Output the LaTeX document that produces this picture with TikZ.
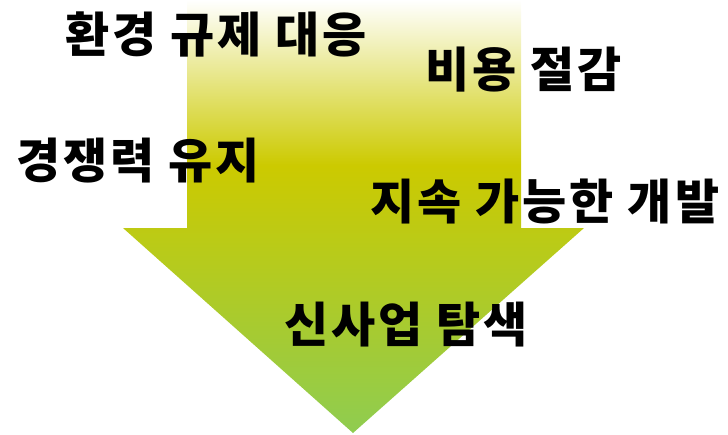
\documentclass[tikz,border=0pt]{standalone}
\usepackage{fontspec}
\newfontfamily\kr[LetterSpace=6]{Noto Sans CJK KR}
\definecolor{arrowtop}{HTML}{FFFFFF}
\definecolor{arrowmid}{HTML}{CCCA00}
\definecolor{arrowbot}{HTML}{8FCC50}
\pgfdeclareverticalshading{arrowshade}{100bp}{
  color(0bp)=(arrowbot); color(25bp)=(arrowbot);
  color(55.9bp)=(arrowmid);
  color(75bp)=(arrowtop); color(100bp)=(arrowtop)}
\tikzset{
  lbl/.style={font=\kr\bfseries\fontsize{48}{52}\selectfont, inner sep=0pt, text=black}
}
\begin{document}
\begin{tikzpicture}[x=1pt,y=-1pt]
\useasboundingbox (0,0) rectangle (728,434);
\shade[shading=arrowshade] (187,0) -- (521,0) -- (521,228) -- (584,228) -- (353,433) -- (123,228) -- (187,228) -- cycle;
\node[lbl] (t1) at (216,34) {환경 규제 대응};
\node[lbl] (t2) at (524,70) {비용 절감};
\node[lbl] (t3) at (138,161) {경쟁력 유지};
\node[lbl] (t4) at (545,201) {지속 가능한 개발};
\node[lbl] (t5) at (406,325) {신사업 탐색};
\end{tikzpicture}
\end{document}
